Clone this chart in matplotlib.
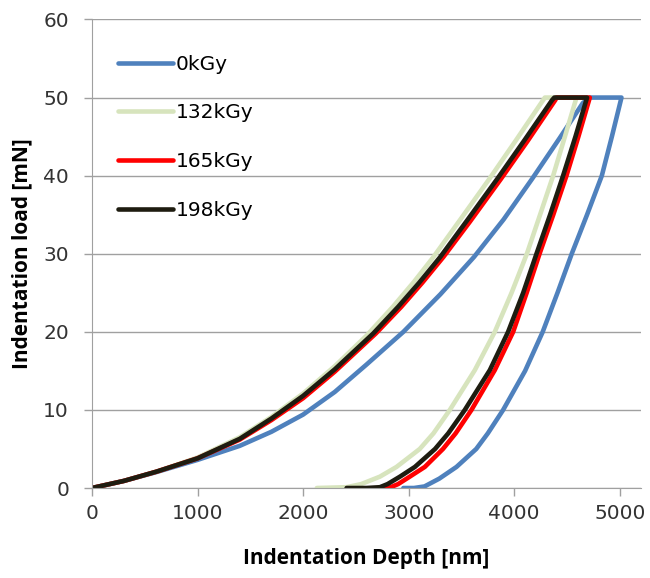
import matplotlib
matplotlib.use("Agg")
import matplotlib.pyplot as plt

# depth [nm] / load [mN]: loading, hold at 50 mN, unloading
x_0 = [0, 300, 600, 1000, 1400, 1700, 2000, 2300, 2600, 2950, 3300, 3620, 3900,
       4170, 4430, 4650, 4716,
       5016, 4925, 4830, 4690, 4545, 4410, 4270, 4103, 3895, 3750, 3640, 3453, 3290, 3150, 3050, 2950]
y_0 = [0, 0.9, 2.0, 3.6, 5.4, 7.2, 9.4, 12.3, 15.8, 20, 24.8, 29.6, 34.4,
       39.6, 44.8, 49.3, 50,
       50, 45, 40, 35, 30, 25, 20, 15, 10, 7, 5, 2.7, 1.2, 0.2, 0, 0]

x_132 = [0, 300, 612, 1000, 1400, 1700, 2000, 2300, 2600, 2850, 3050, 3230, 3480,
         3760, 4020, 4280, 4290,
         4590, 4480, 4369, 4245, 4120, 3975, 3816, 3627, 3390, 3235, 3105, 2885, 2727, 2550, 2412, 2130]
y_132 = [0, 0.9, 2.1, 3.9, 6.5, 9.1, 12.1, 15.6, 19.5, 23.2, 26.4, 29.5, 34.2,
         39.5, 44.6, 49.8, 50,
         50, 45, 40, 35, 30, 25, 20, 15.1, 10, 7, 5, 2.7, 1.45, 0.5, 0.1, 0]

x_165 = [0, 300, 612, 1000, 1400, 1700, 2000, 2300, 2690, 2930, 3130, 3330, 3580,
         3870, 4130, 4390, 4400,
         4716, 4608, 4495, 4370, 4240, 4118, 3990, 3816, 3595, 3445, 3325, 3153, 3010, 2900, 2830, 2730]
y_165 = [0, 0.9, 2.1, 3.8, 6.2, 8.7, 11.5, 14.9, 19.8, 23.2, 26.3, 29.6, 34.1,
         39.5, 44.5, 49.7, 50,
         50, 45, 40, 35, 30, 25, 20, 15.1, 10, 7, 5, 2.7, 1.45, 0.5, 0.1, 0]

x_198 = [0, 300, 612, 1000, 1400, 1700, 2000, 2300, 2665, 2900, 3100, 3300, 3550,
         3840, 4100, 4360, 4380,
         4690, 4580, 4463, 4340, 4211, 4085, 3942, 3769, 3532, 3375, 3250, 3059, 2917, 2800, 2727, 2600, 2412]
y_198 = [0, 0.9, 2.1, 3.8, 6.3, 8.9, 11.8, 15.2, 19.8, 23.2, 26.3, 29.6, 34.2,
         39.6, 44.6, 49.7, 50,
         50, 45, 40, 35, 30, 25, 20, 15.1, 10, 7, 5, 2.7, 1.45, 0.5, 0.1, 0, 0]

labels = ["0kGy", "132kGy", "165kGy", "198kGy"]
colors = ["#4F81BD", "#D7E4BD", "#FF0000", "#1E1C10"]
series = [(x_0, y_0), (x_132, y_132), (x_165, y_165), (x_198, y_198)]

plt.rcParams["font.family"] = ["DejaVu Sans"]

fig = plt.figure(figsize=(6.5, 5.78), dpi=100)
ax = fig.add_axes([0.1415, 0.1557, 0.8445, 0.8106])

for (xs, ys), c, lab in zip(series, colors, labels):
    ax.plot(xs, ys, color=c, lw=3.3, label=lab, solid_joinstyle="round", solid_capstyle="round")

ax.set_xlim(0, 5200)
ax.set_ylim(0, 60)
ax.set_xticks(range(0, 5001, 1000))
ax.set_yticks(range(0, 61, 10))
ax.grid(axis="y", color="#A0A0A0", lw=1)
ax.set_axisbelow(True)
for s in ["top", "right"]:
    ax.spines[s].set_visible(False)
for s in ["left", "bottom"]:
    ax.spines[s].set_color("#A0A0A0")
ax.tick_params(colors="#A0A0A0", labelcolor="#333333", labelsize=14.5, length=5.5, width=1)
ax.tick_params(axis="y", pad=11)
ax.tick_params(axis="x", pad=6)
lab_font = dict(family="Open Sans", fontsize=15, fontweight="bold")
ax.set_xlabel("Indentation Depth [nm]", labelpad=18, **lab_font)
ax.set_ylabel("Indentation load [mN]", labelpad=8, **lab_font)

ax.legend(loc="upper left", bbox_to_anchor=(0.047, 0.925), frameon=False, fontsize=14.5,
          handlelength=2.74, handletextpad=0.15, labelspacing=1.48, borderpad=0, borderaxespad=0)

fig.savefig("out.png", dpi=100)
